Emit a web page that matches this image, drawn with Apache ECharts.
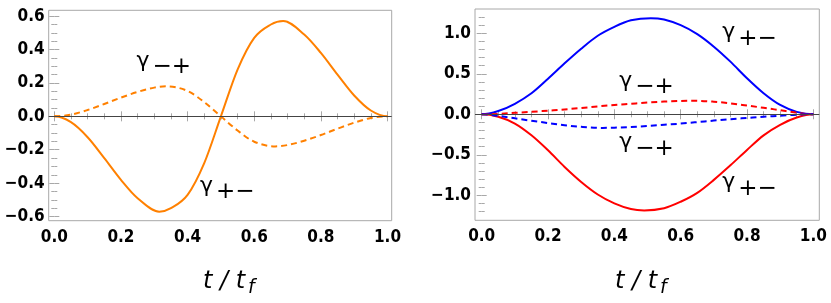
<!DOCTYPE html>
<html><head><meta charset="utf-8">
<script src="https://cdn.jsdelivr.net/npm/echarts@6/dist/echarts.min.js"></script>
<style>html,body{margin:0;padding:0;background:#fff}#c{width:831px;height:303px}</style>
</head><body><div id="c"></div>
<script>
// ---- data: [t/tf, value] ----
const leftSolid  = [[0,0],[0.05,-0.035],[0.1,-0.125],[0.15,-0.25],[0.2,-0.38],[0.25,-0.49],[0.315,-0.571],[0.35,-0.55],[0.4,-0.47],[0.45,-0.28],[0.5,0],
                    [0.55,0.28],[0.6,0.47],[0.65,0.55],[0.687,0.571],[0.75,0.49],[0.8,0.38],[0.85,0.25],[0.9,0.125],[0.95,0.035],[1,0]];
const leftDashed = [[0,0],[0.05,0.01],[0.1,0.038],[0.15,0.074],[0.2,0.112],[0.25,0.146],[0.3,0.172],[0.337,0.18],[0.4,0.152],[0.45,0.085],[0.5,0],
                    [0.55,-0.085],[0.6,-0.152],[0.663,-0.18],[0.7,-0.172],[0.75,-0.146],[0.8,-0.112],[0.85,-0.074],[0.9,-0.038],[0.95,-0.01],[1,0]];
const blueSolid  = [[0,0],[0.05,0.04],[0.1,0.13],[0.15,0.26],[0.2,0.44],[0.25,0.63],[0.3,0.81],[0.35,0.97],[0.4,1.08],[0.45,1.16],[0.51,1.187],
                    [0.55,1.17],[0.6,1.10],[0.65,0.99],[0.7,0.835],[0.75,0.65],[0.8,0.445],[0.85,0.26],[0.9,0.115],[0.95,0.03],[1,0]];
const redSolid   = [[0,0],[0.05,-0.03],[0.1,-0.115],[0.15,-0.26],[0.2,-0.445],[0.25,-0.65],[0.3,-0.835],[0.35,-0.99],[0.4,-1.10],[0.45,-1.17],[0.49,-1.187],
                    [0.55,-1.16],[0.6,-1.08],[0.65,-0.97],[0.7,-0.81],[0.75,-0.63],[0.8,-0.44],[0.85,-0.26],[0.9,-0.13],[0.95,-0.04],[1,0]];
const redDashed  = [[0,0],[0.05,0.005],[0.1,0.018],[0.15,0.03],[0.2,0.045],[0.25,0.06],[0.3,0.078],[0.35,0.097],[0.4,0.115],[0.45,0.13],[0.5,0.145],
                    [0.55,0.157],[0.6,0.165],[0.635,0.168],[0.7,0.155],[0.75,0.135],[0.8,0.108],[0.85,0.08],[0.9,0.05],[0.95,0.02],[1,0]];
const blueDashed = [[0,0],[0.05,-0.02],[0.1,-0.05],[0.15,-0.08],[0.2,-0.108],[0.25,-0.135],[0.3,-0.155],[0.365,-0.168],[0.4,-0.165],[0.45,-0.157],[0.5,-0.145],
                    [0.55,-0.13],[0.6,-0.115],[0.65,-0.097],[0.7,-0.078],[0.75,-0.06],[0.8,-0.045],[0.85,-0.03],[0.9,-0.018],[0.95,-0.005],[1,0]];

const xTicks = [0,0.2,0.4,0.6,0.8,1.0];
const xMinor = [0.05,0.1,0.15,0.25,0.3,0.35,0.45,0.5,0.55,0.65,0.7,0.75,0.85,0.9,0.95];
const leftYTicks = [-0.6,-0.4,-0.2,0,0.2,0.4,0.6];
const leftYMinor = [-0.55,-0.5,-0.45,-0.35,-0.3,-0.25,-0.15,-0.1,-0.05,0.05,0.1,0.15,0.25,0.3,0.35,0.45,0.5,0.55];
const rightYTicks = [-1,-0.5,0,0.5,1];
const rightYMinor = [-1.2,-1.1,-0.9,-0.8,-0.7,-0.6,-0.4,-0.3,-0.2,-0.1,0.1,0.2,0.3,0.4,0.6,0.7,0.8,0.9,1.1,1.2];

// annotation labels (data coordinates: left edge of gamma, vertical middle)
const annotations = [
  {grid:0, t:0.247, v:0.329, sub:'\u2212+'},
  {grid:0, t:0.437, v:-0.417, sub:'+\u2212'},
  {grid:1, t:0.725, v:1.007, sub:'+\u2212'},
  {grid:1, t:0.415, v:0.411, sub:'\u2212+'},
  {grid:1, t:0.415, v:-0.351, sub:'\u2212+'},
  {grid:1, t:0.725, v:-0.844, sub:'+\u2212'}
];

// ---- chart ----
const GRAY = '#a8a8a8';
const chart = echarts.init(document.getElementById('c'), null, {renderer:'canvas'});
function fmt(v){ const s = Math.abs(v).toFixed(1); return '{b|' + (v < -1e-9 ? '\u2212' : '') + s + '}'; }
const labelRich = {b:{fontFamily:'DejaVu Sans Condensed, DejaVu Sans', fontWeight:'bold', fontSize:17, color:'#000'}};
function makeAxes(grid, dim, min, max, majors, minors){
  const posA = dim === 'x' ? 'bottom' : 'left';
  const posB = dim === 'x' ? 'top' : 'right';
  const base = {type:'value', gridIndex:grid, min:min, max:max, axisLine:{show:false}, splitLine:{show:false}};
  const tk = (vals, len) => ({show:true, inside:true, length:len, customValues:vals, lineStyle:{color:GRAY, width:1}});
  return [
    Object.assign({}, base, {position:posA, axisTick:tk(majors,5), axisLabel:{show:true, customValues:majors, formatter:fmt, margin: dim==='x'?8:4, rich:labelRich}}),
    Object.assign({}, base, {position:posA, axisTick:tk(minors,3), axisLabel:{show:false}}),
    Object.assign({}, base, {position:posB, axisTick:tk(majors,5), axisLabel:{show:false}}),
    Object.assign({}, base, {position:posB, axisTick:tk(minors,3), axisLabel:{show:false}})
  ];
}

// smooth curve drawn from the data points through the axes (cubic Hermite, flat at local extremes)
function slopeAt(d, i){
  if (i === 0 || i === d.length - 1) return 0;
  const a = d[i][1] - d[i-1][1], b = d[i+1][1] - d[i][1];
  if (a * b <= 0) return 0;
  return (d[i+1][1] - d[i-1][1]) / (d[i+1][0] - d[i-1][0]);
}
function curve(grid, d, color, dashed){
  return {type:'custom', xAxisIndex:grid*4, yAxisIndex:grid*4, data:d, silent:true, z:3, clip:false,
    encode:{x:0, y:1},
    renderItem:function(params, api){
      if (params.dataIndex !== 0) return null;
      const p = api.coord(d[0]);
      let path = 'M' + p[0] + ' ' + p[1];
      for (let i = 0; i < d.length - 1; i++){
        const h = d[i+1][0] - d[i][0];
        const s0 = slopeAt(d, i), s1 = slopeAt(d, i+1);
        const c0 = api.coord([d[i][0] + h/3, d[i][1] + s0*h/3]);
        const c1 = api.coord([d[i+1][0] - h/3, d[i+1][1] - s1*h/3]);
        const p1 = api.coord(d[i+1]);
        path += ' C' + c0[0] + ' ' + c0[1] + ' ' + c1[0] + ' ' + c1[1] + ' ' + p1[0] + ' ' + p1[1];
      }
      return {type:'path', shape:{pathData:path},
        style:{stroke:color, lineWidth:2, fill:'none', lineDash: dashed ? [6,4] : null, lineJoin:'round'}};
    }};
}
function zeroLine(grid){
  return {type:'line', xAxisIndex:grid*4, yAxisIndex:grid*4, data:[], silent:true, z:2,
    markLine:{silent:true, symbol:['none','none'], label:{show:false}, lineStyle:{color:'#444', width:1, type:'solid'}, data:[{yAxis:0}], animation:false}};
}
const ORANGE = '#ff8000';
chart.setOption({
  animation:false,
  grid:[
    {left:48.7, top:10.3, width:343, height:210.4, show:true, borderColor:GRAY, borderWidth:1, backgroundColor:'transparent'},
    {left:475, top:9, width:344.3, height:211.3, show:true, borderColor:GRAY, borderWidth:1, backgroundColor:'transparent'}
  ],
  xAxis:[].concat(makeAxes(0,'x',-0.0168,1.0126,xTicks,xMinor), makeAxes(1,'x',-0.0202,1.018,xTicks,xMinor)),
  yAxis:[].concat(makeAxes(0,'y',-0.625,0.635,leftYTicks,leftYMinor), makeAxes(1,'y',-1.309,1.30,rightYTicks,rightYMinor)),
  series:[
    zeroLine(0), zeroLine(1),
    curve(0, leftSolid, ORANGE, false),
    curve(0, leftDashed, ORANGE, true),
    curve(1, blueSolid, '#0000ff', false),
    curve(1, redSolid, '#ff0000', false),
    curve(1, redDashed, '#ff0000', true),
    curve(1, blueDashed, '#0000ff', true)
  ]
});

const g = [];
annotations.forEach(a => {
  const p = chart.convertToPixel({xAxisIndex:a.grid*4, yAxisIndex:a.grid*4}, [a.t, a.v]);
  g.push({type:'group', x:p[0], y:p[1], silent:true, children:[
    {type:'text', x:0, y:0, style:{text:'\u03b3', fontFamily:'DejaVu Sans', fontSize:22, fill:'#000', align:'left', verticalAlign:'middle'}},
    {type:'text', x:16, y:6, style:{text:a.sub, fontFamily:'DejaVu Sans', fontSize:23, fill:'#000', align:'left', verticalAlign:'middle'}}
  ]});
});
[[203,281.7],[615,281.7]].forEach(q => {
  g.push({type:'text', x:q[0], y:q[1], silent:true, style:{text:'t / t', fontFamily:'DejaVu Sans', fontStyle:'italic', fontSize:24, fill:'#000', align:'left', verticalAlign:'middle'}});
  g.push({type:'text', x:q[0]+45, y:q[1]+6.5, silent:true, style:{text:'f', fontFamily:'DejaVu Sans', fontStyle:'italic', fontSize:19, fill:'#000', align:'left', verticalAlign:'middle'}});
});
chart.setOption({graphic:g});
</script>
</body></html>
